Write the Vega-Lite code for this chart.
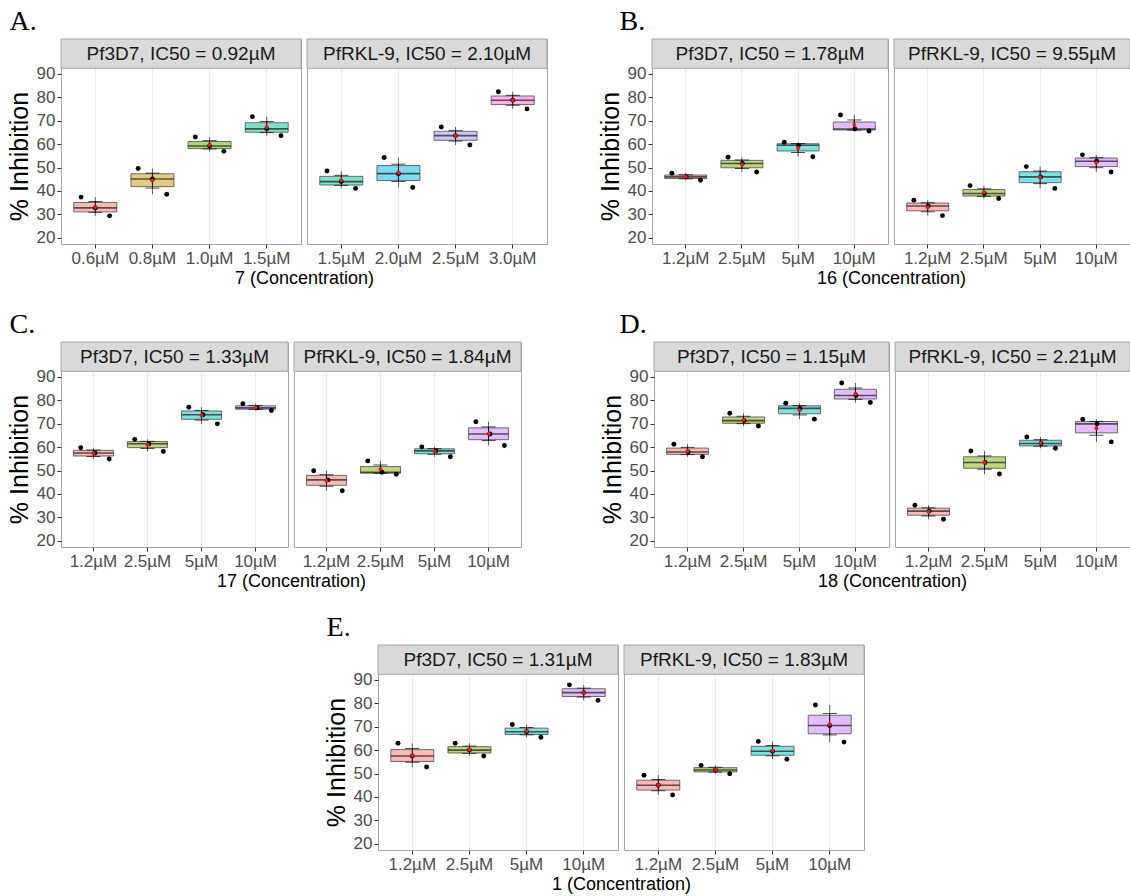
{
"$schema": "https://vega.github.io/schema/vega-lite/v6.json",
"background": "white",
"padding": {"left": 6, "top": 8, "right": 0, "bottom": 0},
"config": {"view": {"stroke": "#a6a6a6", "strokeWidth": 1}, "font": "Liberation Sans", "axis": {"labelFont": "Liberation Sans", "titleFont": "Liberation Sans", "labelOverlap": false, "labelBound": false}, "axisY": {"labelOverlap": false, "tickCount": 20}},
"datasets": {"d": [
{"fig":"A","strain":"Pf3D7","conc":"0.6µM","rep":1,"value":29.4},{"fig":"A","strain":"Pf3D7","conc":"0.6µM","rep":2,"value":32.8},{"fig":"A","strain":"Pf3D7","conc":"0.6µM","rep":3,"value":37.4},
{"fig":"A","strain":"Pf3D7","conc":"0.8µM","rep":1,"value":38.6},{"fig":"A","strain":"Pf3D7","conc":"0.8µM","rep":2,"value":45.1},{"fig":"A","strain":"Pf3D7","conc":"0.8µM","rep":3,"value":49.6},
{"fig":"A","strain":"Pf3D7","conc":"1.0µM","rep":1,"value":56.9},{"fig":"A","strain":"Pf3D7","conc":"1.0µM","rep":2,"value":59.2},{"fig":"A","strain":"Pf3D7","conc":"1.0µM","rep":3,"value":63.0},
{"fig":"A","strain":"Pf3D7","conc":"1.5µM","rep":1,"value":63.6},{"fig":"A","strain":"Pf3D7","conc":"1.5µM","rep":2,"value":66.5},{"fig":"A","strain":"Pf3D7","conc":"1.5µM","rep":3,"value":71.7},
{"fig":"A","strain":"PfRKL-9","conc":"1.5µM","rep":1,"value":41.1},{"fig":"A","strain":"PfRKL-9","conc":"1.5µM","rep":2,"value":44.0},{"fig":"A","strain":"PfRKL-9","conc":"1.5µM","rep":3,"value":48.5},
{"fig":"A","strain":"PfRKL-9","conc":"2.0µM","rep":1,"value":41.5},{"fig":"A","strain":"PfRKL-9","conc":"2.0µM","rep":2,"value":47.4},{"fig":"A","strain":"PfRKL-9","conc":"2.0µM","rep":3,"value":54.3},
{"fig":"A","strain":"PfRKL-9","conc":"2.5µM","rep":1,"value":59.6},{"fig":"A","strain":"PfRKL-9","conc":"2.5µM","rep":2,"value":63.6},{"fig":"A","strain":"PfRKL-9","conc":"2.5µM","rep":3,"value":67.3},
{"fig":"A","strain":"PfRKL-9","conc":"3.0µM","rep":1,"value":75.0},{"fig":"A","strain":"PfRKL-9","conc":"3.0µM","rep":2,"value":78.7},{"fig":"A","strain":"PfRKL-9","conc":"3.0µM","rep":3,"value":82.3},
{"fig":"B","strain":"Pf3D7","conc":"1.2µM","rep":1,"value":44.6},{"fig":"B","strain":"Pf3D7","conc":"1.2µM","rep":2,"value":46.0},{"fig":"B","strain":"Pf3D7","conc":"1.2µM","rep":3,"value":47.6},
{"fig":"B","strain":"Pf3D7","conc":"2.5µM","rep":1,"value":48.1},{"fig":"B","strain":"Pf3D7","conc":"2.5µM","rep":2,"value":51.7},{"fig":"B","strain":"Pf3D7","conc":"2.5µM","rep":3,"value":54.4},
{"fig":"B","strain":"Pf3D7","conc":"5µM","rep":1,"value":54.6},{"fig":"B","strain":"Pf3D7","conc":"5µM","rep":2,"value":59.5},{"fig":"B","strain":"Pf3D7","conc":"5µM","rep":3,"value":60.8},
{"fig":"B","strain":"Pf3D7","conc":"10µM","rep":1,"value":65.6},{"fig":"B","strain":"Pf3D7","conc":"10µM","rep":2,"value":66.4},{"fig":"B","strain":"Pf3D7","conc":"10µM","rep":3,"value":72.4},
{"fig":"B","strain":"PfRKL-9","conc":"1.2µM","rep":1,"value":29.5},{"fig":"B","strain":"PfRKL-9","conc":"1.2µM","rep":2,"value":33.6},{"fig":"B","strain":"PfRKL-9","conc":"1.2µM","rep":3,"value":36.1},
{"fig":"B","strain":"PfRKL-9","conc":"2.5µM","rep":1,"value":36.8},{"fig":"B","strain":"PfRKL-9","conc":"2.5µM","rep":2,"value":38.9},{"fig":"B","strain":"PfRKL-9","conc":"2.5µM","rep":3,"value":42.3},
{"fig":"B","strain":"PfRKL-9","conc":"5µM","rep":1,"value":41.1},{"fig":"B","strain":"PfRKL-9","conc":"5µM","rep":2,"value":46.0},{"fig":"B","strain":"PfRKL-9","conc":"5µM","rep":3,"value":50.4},
{"fig":"B","strain":"PfRKL-9","conc":"10µM","rep":1,"value":48.1},{"fig":"B","strain":"PfRKL-9","conc":"10µM","rep":2,"value":52.7},{"fig":"B","strain":"PfRKL-9","conc":"10µM","rep":3,"value":55.4},
{"fig":"C","strain":"Pf3D7","conc":"1.2µM","rep":1,"value":54.9},{"fig":"C","strain":"Pf3D7","conc":"1.2µM","rep":2,"value":57.5},{"fig":"C","strain":"Pf3D7","conc":"1.2µM","rep":3,"value":59.7},
{"fig":"C","strain":"Pf3D7","conc":"2.5µM","rep":1,"value":58.1},{"fig":"C","strain":"Pf3D7","conc":"2.5µM","rep":2,"value":61.4},{"fig":"C","strain":"Pf3D7","conc":"2.5µM","rep":3,"value":63.3},
{"fig":"C","strain":"Pf3D7","conc":"5µM","rep":1,"value":69.9},{"fig":"C","strain":"Pf3D7","conc":"5µM","rep":2,"value":73.8},{"fig":"C","strain":"Pf3D7","conc":"5µM","rep":3,"value":77.0},
{"fig":"C","strain":"Pf3D7","conc":"10µM","rep":1,"value":75.6},{"fig":"C","strain":"Pf3D7","conc":"10µM","rep":2,"value":76.7},{"fig":"C","strain":"Pf3D7","conc":"10µM","rep":3,"value":78.5},
{"fig":"C","strain":"PfRKL-9","conc":"1.2µM","rep":1,"value":41.4},{"fig":"C","strain":"PfRKL-9","conc":"1.2µM","rep":2,"value":46.0},{"fig":"C","strain":"PfRKL-9","conc":"1.2µM","rep":3,"value":49.9},
{"fig":"C","strain":"PfRKL-9","conc":"2.5µM","rep":1,"value":48.4},{"fig":"C","strain":"PfRKL-9","conc":"2.5µM","rep":2,"value":49.3},{"fig":"C","strain":"PfRKL-9","conc":"2.5µM","rep":3,"value":54.1},
{"fig":"C","strain":"PfRKL-9","conc":"5µM","rep":1,"value":55.9},{"fig":"C","strain":"PfRKL-9","conc":"5µM","rep":2,"value":58.4},{"fig":"C","strain":"PfRKL-9","conc":"5µM","rep":3,"value":60.1},
{"fig":"C","strain":"PfRKL-9","conc":"10µM","rep":1,"value":60.7},{"fig":"C","strain":"PfRKL-9","conc":"10µM","rep":2,"value":65.6},{"fig":"C","strain":"PfRKL-9","conc":"10µM","rep":3,"value":70.8},
{"fig":"D","strain":"Pf3D7","conc":"1.2µM","rep":1,"value":55.9},{"fig":"D","strain":"Pf3D7","conc":"1.2µM","rep":2,"value":57.9},{"fig":"D","strain":"Pf3D7","conc":"1.2µM","rep":3,"value":61.2},
{"fig":"D","strain":"Pf3D7","conc":"2.5µM","rep":1,"value":69.0},{"fig":"D","strain":"Pf3D7","conc":"2.5µM","rep":2,"value":71.3},{"fig":"D","strain":"Pf3D7","conc":"2.5µM","rep":3,"value":74.4},
{"fig":"D","strain":"Pf3D7","conc":"5µM","rep":1,"value":71.9},{"fig":"D","strain":"Pf3D7","conc":"5µM","rep":2,"value":76.5},{"fig":"D","strain":"Pf3D7","conc":"5µM","rep":3,"value":78.7},
{"fig":"D","strain":"Pf3D7","conc":"10µM","rep":1,"value":79.0},{"fig":"D","strain":"Pf3D7","conc":"10µM","rep":2,"value":82.0},{"fig":"D","strain":"Pf3D7","conc":"10µM","rep":3,"value":87.3},
{"fig":"D","strain":"PfRKL-9","conc":"1.2µM","rep":1,"value":29.2},{"fig":"D","strain":"PfRKL-9","conc":"1.2µM","rep":2,"value":32.7},{"fig":"D","strain":"PfRKL-9","conc":"1.2µM","rep":3,"value":35.2},
{"fig":"D","strain":"PfRKL-9","conc":"2.5µM","rep":1,"value":48.5},{"fig":"D","strain":"PfRKL-9","conc":"2.5µM","rep":2,"value":53.4},{"fig":"D","strain":"PfRKL-9","conc":"2.5µM","rep":3,"value":58.3},
{"fig":"D","strain":"PfRKL-9","conc":"5µM","rep":1,"value":59.5},{"fig":"D","strain":"PfRKL-9","conc":"5µM","rep":2,"value":61.5},{"fig":"D","strain":"PfRKL-9","conc":"5µM","rep":3,"value":64.3},
{"fig":"D","strain":"PfRKL-9","conc":"10µM","rep":1,"value":62.2},{"fig":"D","strain":"PfRKL-9","conc":"10µM","rep":2,"value":69.9},{"fig":"D","strain":"PfRKL-9","conc":"10µM","rep":3,"value":71.9},
{"fig":"E","strain":"Pf3D7","conc":"1.2µM","rep":1,"value":52.8},{"fig":"E","strain":"Pf3D7","conc":"1.2µM","rep":2,"value":57.5},{"fig":"E","strain":"Pf3D7","conc":"1.2µM","rep":3,"value":62.9},
{"fig":"E","strain":"Pf3D7","conc":"2.5µM","rep":1,"value":57.5},{"fig":"E","strain":"Pf3D7","conc":"2.5µM","rep":2,"value":60.0},{"fig":"E","strain":"Pf3D7","conc":"2.5µM","rep":3,"value":62.9},
{"fig":"E","strain":"Pf3D7","conc":"5µM","rep":1,"value":65.5},{"fig":"E","strain":"Pf3D7","conc":"5µM","rep":2,"value":67.8},{"fig":"E","strain":"Pf3D7","conc":"5µM","rep":3,"value":70.9},
{"fig":"E","strain":"Pf3D7","conc":"10µM","rep":1,"value":81.2},{"fig":"E","strain":"Pf3D7","conc":"10µM","rep":2,"value":84.5},{"fig":"E","strain":"Pf3D7","conc":"10µM","rep":3,"value":87.8},
{"fig":"E","strain":"PfRKL-9","conc":"1.2µM","rep":1,"value":40.9},{"fig":"E","strain":"PfRKL-9","conc":"1.2µM","rep":2,"value":45.0},{"fig":"E","strain":"PfRKL-9","conc":"1.2µM","rep":3,"value":49.3},
{"fig":"E","strain":"PfRKL-9","conc":"2.5µM","rep":1,"value":49.9},{"fig":"E","strain":"PfRKL-9","conc":"2.5µM","rep":2,"value":51.5},{"fig":"E","strain":"PfRKL-9","conc":"2.5µM","rep":3,"value":53.5},
{"fig":"E","strain":"PfRKL-9","conc":"5µM","rep":1,"value":56.1},{"fig":"E","strain":"PfRKL-9","conc":"5µM","rep":2,"value":59.5},{"fig":"E","strain":"PfRKL-9","conc":"5µM","rep":3,"value":63.7},
{"fig":"E","strain":"PfRKL-9","conc":"10µM","rep":1,"value":63.4},{"fig":"E","strain":"PfRKL-9","conc":"10µM","rep":2,"value":70.5},{"fig":"E","strain":"PfRKL-9","conc":"10µM","rep":3,"value":79.2}
]},
"resolve": {"scale": {"color": "independent"}},
"spacing": 23,
"vconcat": [
{"hconcat": [
 {"title": {"text": "A.", "anchor": "start", "frame": "bounds", "font": "Liberation Serif", "fontSize": 28, "fontWeight": "normal", "color": "black", "offset": 2, "dx": 3},
  "bounds": "flush", "spacing": 6,
  "hconcat": [
   {"width": 240, "height": 205, "layer": [
     {"data": {"values": [{"label": "Pf3D7, IC50 = 0.92µM"}]}, "mark": {"type": "rect", "fill": "#d9d9d9", "stroke": "#a6a6a6", "strokeWidth": 1}, "encoding": {"y": {"datum": 92.3, "type": "quantitative", "scale": {"domain": [17.4, 104.8], "nice": false, "zero": false}}, "y2": {"datum": 104.8}}},
     {"data": {"values": [{"label": "Pf3D7, IC50 = 0.92µM"}]}, "mark": {"type": "text", "fontSize": 19, "color": "#1a1a1a", "font": "Liberation Sans"}, "encoding": {"y": {"datum": 98.55, "type": "quantitative", "scale": {"domain": [17.4, 104.8], "nice": false, "zero": false}}, "text": {"field": "label", "type": "nominal"}}},
     {"data": {"name": "d"}, "transform": [{"filter": "datum.fig === 'A' && datum.strain === 'Pf3D7'"}],
      "encoding": {
       "x": {"field": "conc", "type": "nominal", "scale": {"domain": ["0.6µM","0.8µM","1.0µM","1.5µM"], "paddingInner": 0, "paddingOuter": 0.1}, "axis": {"title": "7 (Concentration)", "titleX": 243, "labelAngle": 0, "labelFontSize": 17, "labelColor": "#4d4d4d", "tickColor": "#333333", "tickSize": 4, "labelPadding": 2, "grid": true, "gridColor": "#ebebeb", "domain": false, "titleFontSize": 18, "titleFontWeight": "normal", "titleColor": "black", "titlePadding": 3}},
       "y": {"field": "value", "type": "quantitative", "scale": {"domain": [17.4, 104.8], "nice": false, "zero": false}, "axis": {"values": [20,25,30,35,40,45,50,55,60,65,70,75,80,85,90], "tickCount": 20, "labelExpr": "datum.value % 10 === 0 ? datum.label : ''", "labelOverlap": false, "tickOpacity": {"condition": {"test": "datum.value % 10 === 0", "value": 1}, "value": 0}, "gridWidth": {"condition": {"test": "datum.value % 10 === 0", "value": 1.2}, "value": 0.6}, "gridColor": "#ebebeb", "domain": false, "tickColor": "#333333", "tickSize": 4, "labelColor": "#4d4d4d", "labelFontSize": 17, "labelPadding": 2, "title": "% Inhibition", "titleFontSize": 25, "titleFontWeight": "normal", "titleColor": "black", "titlePadding": 4, "titleY": 117}}},
      "layer": [
       {"mark": {"type": "boxplot", "extent": "min-max", "size": 43, "box": {"stroke": "#4d4d4d", "strokeWidth": 0.8, "fillOpacity": 0.5}, "median": {"color": "#1a1a1a", "thickness": 1.6}, "rule": {"color": "#333333", "strokeWidth": 0.8}, "ticks": false}, "encoding": {"color": {"field": "conc", "type": "nominal", "scale": {"domain": ["0.6µM","0.8µM","1.0µM","1.5µM","2.0µM","2.5µM","3.0µM"], "range": ["#F8766D","#C49A00","#53B400","#00C094","#00B6EB","#A58AFF","#FB61D7"]}, "legend": null}}},
       {"mark": {"type": "errorbar", "extent": "stderr", "ticks": {"size": 14, "color": "black"}, "rule": {"color": "black", "strokeWidth": 1}}},
       {"mark": {"type": "circle", "color": "black", "size": 24, "opacity": 1}, "encoding": {"xOffset": {"field": "rep", "type": "nominal", "scale": {"domain": [3,2,1], "paddingOuter": 2}}}},
       {"mark": {"type": "circle", "color": "#e41a1c", "size": 16, "opacity": 1}, "encoding": {"y": {"aggregate": "mean", "field": "value", "type": "quantitative", "title": "% Inhibition"}}}
      ]}
   ]},
   {"width": 240, "height": 205, "layer": [
     {"data": {"values": [{"label": "PfRKL-9, IC50 = 2.10µM"}]}, "mark": {"type": "rect", "fill": "#d9d9d9", "stroke": "#a6a6a6", "strokeWidth": 1}, "encoding": {"y": {"datum": 92.3, "type": "quantitative", "scale": {"domain": [17.4, 104.8], "nice": false, "zero": false}}, "y2": {"datum": 104.8}}},
     {"data": {"values": [{"label": "PfRKL-9, IC50 = 2.10µM"}]}, "mark": {"type": "text", "fontSize": 19, "color": "#1a1a1a", "font": "Liberation Sans"}, "encoding": {"y": {"datum": 98.55, "type": "quantitative", "scale": {"domain": [17.4, 104.8], "nice": false, "zero": false}}, "text": {"field": "label", "type": "nominal"}}},
     {"data": {"name": "d"}, "transform": [{"filter": "datum.fig === 'A' && datum.strain === 'PfRKL-9'"}],
      "encoding": {
       "x": {"field": "conc", "type": "nominal", "scale": {"domain": ["1.5µM","2.0µM","2.5µM","3.0µM"], "paddingInner": 0, "paddingOuter": 0.1}, "axis": {"title": null, "labelAngle": 0, "labelFontSize": 17, "labelColor": "#4d4d4d", "tickColor": "#333333", "tickSize": 4, "labelPadding": 2, "grid": true, "gridColor": "#ebebeb", "domain": false}},
       "y": {"field": "value", "type": "quantitative", "scale": {"domain": [17.4, 104.8], "nice": false, "zero": false}, "axis": {"values": [20,25,30,35,40,45,50,55,60,65,70,75,80,85,90], "tickCount": 20, "labels": false, "ticks": false, "domain": false, "title": null, "gridWidth": {"condition": {"test": "datum.value % 10 === 0", "value": 1.2}, "value": 0.6}, "gridColor": "#ebebeb"}}},
      "layer": [
       {"mark": {"type": "boxplot", "extent": "min-max", "size": 43, "box": {"stroke": "#4d4d4d", "strokeWidth": 0.8, "fillOpacity": 0.5}, "median": {"color": "#1a1a1a", "thickness": 1.6}, "rule": {"color": "#333333", "strokeWidth": 0.8}, "ticks": false}, "encoding": {"color": {"field": "conc", "type": "nominal", "scale": {"domain": ["0.6µM","0.8µM","1.0µM","1.5µM","2.0µM","2.5µM","3.0µM"], "range": ["#F8766D","#C49A00","#53B400","#00C094","#00B6EB","#A58AFF","#FB61D7"]}, "legend": null}}},
       {"mark": {"type": "errorbar", "extent": "stderr", "ticks": {"size": 14, "color": "black"}, "rule": {"color": "black", "strokeWidth": 1}}},
       {"mark": {"type": "circle", "color": "black", "size": 24, "opacity": 1}, "encoding": {"xOffset": {"field": "rep", "type": "nominal", "scale": {"domain": [3,2,1], "paddingOuter": 2}}}},
       {"mark": {"type": "circle", "color": "#e41a1c", "size": 16, "opacity": 1}, "encoding": {"y": {"aggregate": "mean", "field": "value", "type": "quantitative", "title": null}}}
      ]}
   ]}
  ]},
 {"title": {"text": "B.", "anchor": "start", "frame": "bounds", "font": "Liberation Serif", "fontSize": 28, "fontWeight": "normal", "color": "black", "offset": 2, "dx": 22},
  "bounds": "flush", "spacing": 6,
  "hconcat": [
   {"width": 236, "height": 205, "layer": [
     {"data": {"values": [{"label": "Pf3D7, IC50 = 1.78µM"}]}, "mark": {"type": "rect", "fill": "#d9d9d9", "stroke": "#a6a6a6", "strokeWidth": 1}, "encoding": {"y": {"datum": 92.3, "type": "quantitative", "scale": {"domain": [17.4, 104.8], "nice": false, "zero": false}}, "y2": {"datum": 104.8}}},
     {"data": {"values": [{"label": "Pf3D7, IC50 = 1.78µM"}]}, "mark": {"type": "text", "fontSize": 19, "color": "#1a1a1a", "font": "Liberation Sans"}, "encoding": {"y": {"datum": 98.55, "type": "quantitative", "scale": {"domain": [17.4, 104.8], "nice": false, "zero": false}}, "text": {"field": "label", "type": "nominal"}}},
     {"data": {"name": "d"}, "transform": [{"filter": "datum.fig === 'B' && datum.strain === 'Pf3D7'"}],
      "encoding": {
       "x": {"field": "conc", "type": "nominal", "scale": {"domain": ["1.2µM","2.5µM","5µM","10µM"], "paddingInner": 0, "paddingOuter": 0.1}, "axis": {"title": "16 (Concentration)", "titleX": 239, "labelAngle": 0, "labelFontSize": 17, "labelColor": "#4d4d4d", "tickColor": "#333333", "tickSize": 4, "labelPadding": 2, "grid": true, "gridColor": "#ebebeb", "domain": false, "titleFontSize": 18, "titleFontWeight": "normal", "titleColor": "black", "titlePadding": 3}},
       "y": {"field": "value", "type": "quantitative", "scale": {"domain": [17.4, 104.8], "nice": false, "zero": false}, "axis": {"values": [20,25,30,35,40,45,50,55,60,65,70,75,80,85,90], "tickCount": 20, "labelExpr": "datum.value % 10 === 0 ? datum.label : ''", "labelOverlap": false, "tickOpacity": {"condition": {"test": "datum.value % 10 === 0", "value": 1}, "value": 0}, "gridWidth": {"condition": {"test": "datum.value % 10 === 0", "value": 1.2}, "value": 0.6}, "gridColor": "#ebebeb", "domain": false, "tickColor": "#333333", "tickSize": 4, "labelColor": "#4d4d4d", "labelFontSize": 17, "labelPadding": 2, "title": "% Inhibition", "titleFontSize": 25, "titleFontWeight": "normal", "titleColor": "black", "titlePadding": 4, "titleY": 117}}},
      "layer": [
       {"mark": {"type": "boxplot", "extent": "min-max", "size": 42, "box": {"stroke": "#4d4d4d", "strokeWidth": 0.8, "fillOpacity": 0.5}, "median": {"color": "#1a1a1a", "thickness": 1.6}, "rule": {"color": "#333333", "strokeWidth": 0.8}, "ticks": false}, "encoding": {"color": {"field": "conc", "type": "nominal", "scale": {"domain": ["1.2µM","2.5µM","5µM","10µM"], "range": ["#F8766D","#7CAE00","#00BFC4","#C77CFF"]}, "legend": null}}},
       {"mark": {"type": "errorbar", "extent": "stderr", "ticks": {"size": 14, "color": "black"}, "rule": {"color": "black", "strokeWidth": 1}}},
       {"mark": {"type": "circle", "color": "black", "size": 24, "opacity": 1}, "encoding": {"xOffset": {"field": "rep", "type": "nominal", "scale": {"domain": [3,2,1], "paddingOuter": 2}}}},
       {"mark": {"type": "circle", "color": "#e41a1c", "size": 16, "opacity": 1}, "encoding": {"y": {"aggregate": "mean", "field": "value", "type": "quantitative", "title": "% Inhibition"}}}
      ]}
   ]},
   {"width": 236, "height": 205, "layer": [
     {"data": {"values": [{"label": "PfRKL-9, IC50 = 9.55µM"}]}, "mark": {"type": "rect", "fill": "#d9d9d9", "stroke": "#a6a6a6", "strokeWidth": 1}, "encoding": {"y": {"datum": 92.3, "type": "quantitative", "scale": {"domain": [17.4, 104.8], "nice": false, "zero": false}}, "y2": {"datum": 104.8}}},
     {"data": {"values": [{"label": "PfRKL-9, IC50 = 9.55µM"}]}, "mark": {"type": "text", "fontSize": 19, "color": "#1a1a1a", "font": "Liberation Sans"}, "encoding": {"y": {"datum": 98.55, "type": "quantitative", "scale": {"domain": [17.4, 104.8], "nice": false, "zero": false}}, "text": {"field": "label", "type": "nominal"}}},
     {"data": {"name": "d"}, "transform": [{"filter": "datum.fig === 'B' && datum.strain === 'PfRKL-9'"}],
      "encoding": {
       "x": {"field": "conc", "type": "nominal", "scale": {"domain": ["1.2µM","2.5µM","5µM","10µM"], "paddingInner": 0, "paddingOuter": 0.1}, "axis": {"title": null, "labelAngle": 0, "labelFontSize": 17, "labelColor": "#4d4d4d", "tickColor": "#333333", "tickSize": 4, "labelPadding": 2, "grid": true, "gridColor": "#ebebeb", "domain": false}},
       "y": {"field": "value", "type": "quantitative", "scale": {"domain": [17.4, 104.8], "nice": false, "zero": false}, "axis": {"values": [20,25,30,35,40,45,50,55,60,65,70,75,80,85,90], "tickCount": 20, "labels": false, "ticks": false, "domain": false, "title": null, "gridWidth": {"condition": {"test": "datum.value % 10 === 0", "value": 1.2}, "value": 0.6}, "gridColor": "#ebebeb"}}},
      "layer": [
       {"mark": {"type": "boxplot", "extent": "min-max", "size": 42, "box": {"stroke": "#4d4d4d", "strokeWidth": 0.8, "fillOpacity": 0.5}, "median": {"color": "#1a1a1a", "thickness": 1.6}, "rule": {"color": "#333333", "strokeWidth": 0.8}, "ticks": false}, "encoding": {"color": {"field": "conc", "type": "nominal", "scale": {"domain": ["1.2µM","2.5µM","5µM","10µM"], "range": ["#F8766D","#7CAE00","#00BFC4","#C77CFF"]}, "legend": null}}},
       {"mark": {"type": "errorbar", "extent": "stderr", "ticks": {"size": 14, "color": "black"}, "rule": {"color": "black", "strokeWidth": 1}}},
       {"mark": {"type": "circle", "color": "black", "size": 24, "opacity": 1}, "encoding": {"xOffset": {"field": "rep", "type": "nominal", "scale": {"domain": [3,2,1], "paddingOuter": 2}}}},
       {"mark": {"type": "circle", "color": "#e41a1c", "size": 16, "opacity": 1}, "encoding": {"y": {"aggregate": "mean", "field": "value", "type": "quantitative", "title": null}}}
      ]}
   ]}
  ]}
 ], "spacing": 49, "resolve": {"scale": {"color": "independent"}}},
{"hconcat": [
 {"title": {"text": "C.", "anchor": "start", "frame": "bounds", "font": "Liberation Serif", "fontSize": 28, "fontWeight": "normal", "color": "black", "offset": 2, "dx": 3},
  "bounds": "flush", "spacing": 6,
  "hconcat": [
   {"width": 227, "height": 205, "layer": [
     {"data": {"values": [{"label": "Pf3D7, IC50 = 1.33µM"}]}, "mark": {"type": "rect", "fill": "#d9d9d9", "stroke": "#a6a6a6", "strokeWidth": 1}, "encoding": {"y": {"datum": 92.3, "type": "quantitative", "scale": {"domain": [17.4, 104.8], "nice": false, "zero": false}}, "y2": {"datum": 104.8}}},
     {"data": {"values": [{"label": "Pf3D7, IC50 = 1.33µM"}]}, "mark": {"type": "text", "fontSize": 19, "color": "#1a1a1a", "font": "Liberation Sans"}, "encoding": {"y": {"datum": 98.55, "type": "quantitative", "scale": {"domain": [17.4, 104.8], "nice": false, "zero": false}}, "text": {"field": "label", "type": "nominal"}}},
     {"data": {"name": "d"}, "transform": [{"filter": "datum.fig === 'C' && datum.strain === 'Pf3D7'"}],
      "encoding": {
       "x": {"field": "conc", "type": "nominal", "scale": {"domain": ["1.2µM","2.5µM","5µM","10µM"], "paddingInner": 0, "paddingOuter": 0.1}, "axis": {"title": "17 (Concentration)", "titleX": 230, "labelAngle": 0, "labelFontSize": 17, "labelColor": "#4d4d4d", "tickColor": "#333333", "tickSize": 4, "labelPadding": 2, "grid": true, "gridColor": "#ebebeb", "domain": false, "titleFontSize": 18, "titleFontWeight": "normal", "titleColor": "black", "titlePadding": 3}},
       "y": {"field": "value", "type": "quantitative", "scale": {"domain": [17.4, 104.8], "nice": false, "zero": false}, "axis": {"values": [20,25,30,35,40,45,50,55,60,65,70,75,80,85,90], "tickCount": 20, "labelExpr": "datum.value % 10 === 0 ? datum.label : ''", "labelOverlap": false, "tickOpacity": {"condition": {"test": "datum.value % 10 === 0", "value": 1}, "value": 0}, "gridWidth": {"condition": {"test": "datum.value % 10 === 0", "value": 1.2}, "value": 0.6}, "gridColor": "#ebebeb", "domain": false, "tickColor": "#333333", "tickSize": 4, "labelColor": "#4d4d4d", "labelFontSize": 17, "labelPadding": 2, "title": "% Inhibition", "titleFontSize": 25, "titleFontWeight": "normal", "titleColor": "black", "titlePadding": 4, "titleY": 117}}},
      "layer": [
       {"mark": {"type": "boxplot", "extent": "min-max", "size": 40, "box": {"stroke": "#4d4d4d", "strokeWidth": 0.8, "fillOpacity": 0.5}, "median": {"color": "#1a1a1a", "thickness": 1.6}, "rule": {"color": "#333333", "strokeWidth": 0.8}, "ticks": false}, "encoding": {"color": {"field": "conc", "type": "nominal", "scale": {"domain": ["1.2µM","2.5µM","5µM","10µM"], "range": ["#F8766D","#7CAE00","#00BFC4","#C77CFF"]}, "legend": null}}},
       {"mark": {"type": "errorbar", "extent": "stderr", "ticks": {"size": 14, "color": "black"}, "rule": {"color": "black", "strokeWidth": 1}}},
       {"mark": {"type": "circle", "color": "black", "size": 24, "opacity": 1}, "encoding": {"xOffset": {"field": "rep", "type": "nominal", "scale": {"domain": [3,2,1], "paddingOuter": 2}}}},
       {"mark": {"type": "circle", "color": "#e41a1c", "size": 16, "opacity": 1}, "encoding": {"y": {"aggregate": "mean", "field": "value", "type": "quantitative", "title": "% Inhibition"}}}
      ]}
   ]},
   {"width": 227, "height": 205, "layer": [
     {"data": {"values": [{"label": "PfRKL-9, IC50 = 1.84µM"}]}, "mark": {"type": "rect", "fill": "#d9d9d9", "stroke": "#a6a6a6", "strokeWidth": 1}, "encoding": {"y": {"datum": 92.3, "type": "quantitative", "scale": {"domain": [17.4, 104.8], "nice": false, "zero": false}}, "y2": {"datum": 104.8}}},
     {"data": {"values": [{"label": "PfRKL-9, IC50 = 1.84µM"}]}, "mark": {"type": "text", "fontSize": 19, "color": "#1a1a1a", "font": "Liberation Sans"}, "encoding": {"y": {"datum": 98.55, "type": "quantitative", "scale": {"domain": [17.4, 104.8], "nice": false, "zero": false}}, "text": {"field": "label", "type": "nominal"}}},
     {"data": {"name": "d"}, "transform": [{"filter": "datum.fig === 'C' && datum.strain === 'PfRKL-9'"}],
      "encoding": {
       "x": {"field": "conc", "type": "nominal", "scale": {"domain": ["1.2µM","2.5µM","5µM","10µM"], "paddingInner": 0, "paddingOuter": 0.1}, "axis": {"title": null, "labelAngle": 0, "labelFontSize": 17, "labelColor": "#4d4d4d", "tickColor": "#333333", "tickSize": 4, "labelPadding": 2, "grid": true, "gridColor": "#ebebeb", "domain": false}},
       "y": {"field": "value", "type": "quantitative", "scale": {"domain": [17.4, 104.8], "nice": false, "zero": false}, "axis": {"values": [20,25,30,35,40,45,50,55,60,65,70,75,80,85,90], "tickCount": 20, "labels": false, "ticks": false, "domain": false, "title": null, "gridWidth": {"condition": {"test": "datum.value % 10 === 0", "value": 1.2}, "value": 0.6}, "gridColor": "#ebebeb"}}},
      "layer": [
       {"mark": {"type": "boxplot", "extent": "min-max", "size": 40, "box": {"stroke": "#4d4d4d", "strokeWidth": 0.8, "fillOpacity": 0.5}, "median": {"color": "#1a1a1a", "thickness": 1.6}, "rule": {"color": "#333333", "strokeWidth": 0.8}, "ticks": false}, "encoding": {"color": {"field": "conc", "type": "nominal", "scale": {"domain": ["1.2µM","2.5µM","5µM","10µM"], "range": ["#F8766D","#7CAE00","#00BFC4","#C77CFF"]}, "legend": null}}},
       {"mark": {"type": "errorbar", "extent": "stderr", "ticks": {"size": 14, "color": "black"}, "rule": {"color": "black", "strokeWidth": 1}}},
       {"mark": {"type": "circle", "color": "black", "size": 24, "opacity": 1}, "encoding": {"xOffset": {"field": "rep", "type": "nominal", "scale": {"domain": [3,2,1], "paddingOuter": 2}}}},
       {"mark": {"type": "circle", "color": "#e41a1c", "size": 16, "opacity": 1}, "encoding": {"y": {"aggregate": "mean", "field": "value", "type": "quantitative", "title": null}}}
      ]}
   ]}
  ]},
 {"title": {"text": "D.", "anchor": "start", "frame": "bounds", "font": "Liberation Serif", "fontSize": 28, "fontWeight": "normal", "color": "black", "offset": 2, "dx": 20},
  "bounds": "flush", "spacing": 6,
  "hconcat": [
   {"width": 235, "height": 205, "layer": [
     {"data": {"values": [{"label": "Pf3D7, IC50 = 1.15µM"}]}, "mark": {"type": "rect", "fill": "#d9d9d9", "stroke": "#a6a6a6", "strokeWidth": 1}, "encoding": {"y": {"datum": 92.3, "type": "quantitative", "scale": {"domain": [17.4, 104.8], "nice": false, "zero": false}}, "y2": {"datum": 104.8}}},
     {"data": {"values": [{"label": "Pf3D7, IC50 = 1.15µM"}]}, "mark": {"type": "text", "fontSize": 19, "color": "#1a1a1a", "font": "Liberation Sans"}, "encoding": {"y": {"datum": 98.55, "type": "quantitative", "scale": {"domain": [17.4, 104.8], "nice": false, "zero": false}}, "text": {"field": "label", "type": "nominal"}}},
     {"data": {"name": "d"}, "transform": [{"filter": "datum.fig === 'D' && datum.strain === 'Pf3D7'"}],
      "encoding": {
       "x": {"field": "conc", "type": "nominal", "scale": {"domain": ["1.2µM","2.5µM","5µM","10µM"], "paddingInner": 0, "paddingOuter": 0.1}, "axis": {"title": "18 (Concentration)", "titleX": 238, "labelAngle": 0, "labelFontSize": 17, "labelColor": "#4d4d4d", "tickColor": "#333333", "tickSize": 4, "labelPadding": 2, "grid": true, "gridColor": "#ebebeb", "domain": false, "titleFontSize": 18, "titleFontWeight": "normal", "titleColor": "black", "titlePadding": 3}},
       "y": {"field": "value", "type": "quantitative", "scale": {"domain": [17.4, 104.8], "nice": false, "zero": false}, "axis": {"values": [20,25,30,35,40,45,50,55,60,65,70,75,80,85,90], "tickCount": 20, "labelExpr": "datum.value % 10 === 0 ? datum.label : ''", "labelOverlap": false, "tickOpacity": {"condition": {"test": "datum.value % 10 === 0", "value": 1}, "value": 0}, "gridWidth": {"condition": {"test": "datum.value % 10 === 0", "value": 1.2}, "value": 0.6}, "gridColor": "#ebebeb", "domain": false, "tickColor": "#333333", "tickSize": 4, "labelColor": "#4d4d4d", "labelFontSize": 17, "labelPadding": 2, "title": "% Inhibition", "titleFontSize": 25, "titleFontWeight": "normal", "titleColor": "black", "titlePadding": 4, "titleY": 117}}},
      "layer": [
       {"mark": {"type": "boxplot", "extent": "min-max", "size": 42, "box": {"stroke": "#4d4d4d", "strokeWidth": 0.8, "fillOpacity": 0.5}, "median": {"color": "#1a1a1a", "thickness": 1.6}, "rule": {"color": "#333333", "strokeWidth": 0.8}, "ticks": false}, "encoding": {"color": {"field": "conc", "type": "nominal", "scale": {"domain": ["1.2µM","2.5µM","5µM","10µM"], "range": ["#F8766D","#7CAE00","#00BFC4","#C77CFF"]}, "legend": null}}},
       {"mark": {"type": "errorbar", "extent": "stderr", "ticks": {"size": 14, "color": "black"}, "rule": {"color": "black", "strokeWidth": 1}}},
       {"mark": {"type": "circle", "color": "black", "size": 24, "opacity": 1}, "encoding": {"xOffset": {"field": "rep", "type": "nominal", "scale": {"domain": [3,2,1], "paddingOuter": 2}}}},
       {"mark": {"type": "circle", "color": "#e41a1c", "size": 16, "opacity": 1}, "encoding": {"y": {"aggregate": "mean", "field": "value", "type": "quantitative", "title": "% Inhibition"}}}
      ]}
   ]},
   {"width": 235, "height": 205, "layer": [
     {"data": {"values": [{"label": "PfRKL-9, IC50 = 2.21µM"}]}, "mark": {"type": "rect", "fill": "#d9d9d9", "stroke": "#a6a6a6", "strokeWidth": 1}, "encoding": {"y": {"datum": 92.3, "type": "quantitative", "scale": {"domain": [17.4, 104.8], "nice": false, "zero": false}}, "y2": {"datum": 104.8}}},
     {"data": {"values": [{"label": "PfRKL-9, IC50 = 2.21µM"}]}, "mark": {"type": "text", "fontSize": 19, "color": "#1a1a1a", "font": "Liberation Sans"}, "encoding": {"y": {"datum": 98.55, "type": "quantitative", "scale": {"domain": [17.4, 104.8], "nice": false, "zero": false}}, "text": {"field": "label", "type": "nominal"}}},
     {"data": {"name": "d"}, "transform": [{"filter": "datum.fig === 'D' && datum.strain === 'PfRKL-9'"}],
      "encoding": {
       "x": {"field": "conc", "type": "nominal", "scale": {"domain": ["1.2µM","2.5µM","5µM","10µM"], "paddingInner": 0, "paddingOuter": 0.1}, "axis": {"title": null, "labelAngle": 0, "labelFontSize": 17, "labelColor": "#4d4d4d", "tickColor": "#333333", "tickSize": 4, "labelPadding": 2, "grid": true, "gridColor": "#ebebeb", "domain": false}},
       "y": {"field": "value", "type": "quantitative", "scale": {"domain": [17.4, 104.8], "nice": false, "zero": false}, "axis": {"values": [20,25,30,35,40,45,50,55,60,65,70,75,80,85,90], "tickCount": 20, "labels": false, "ticks": false, "domain": false, "title": null, "gridWidth": {"condition": {"test": "datum.value % 10 === 0", "value": 1.2}, "value": 0.6}, "gridColor": "#ebebeb"}}},
      "layer": [
       {"mark": {"type": "boxplot", "extent": "min-max", "size": 42, "box": {"stroke": "#4d4d4d", "strokeWidth": 0.8, "fillOpacity": 0.5}, "median": {"color": "#1a1a1a", "thickness": 1.6}, "rule": {"color": "#333333", "strokeWidth": 0.8}, "ticks": false}, "encoding": {"color": {"field": "conc", "type": "nominal", "scale": {"domain": ["1.2µM","2.5µM","5µM","10µM"], "range": ["#F8766D","#7CAE00","#00BFC4","#C77CFF"]}, "legend": null}}},
       {"mark": {"type": "errorbar", "extent": "stderr", "ticks": {"size": 14, "color": "black"}, "rule": {"color": "black", "strokeWidth": 1}}},
       {"mark": {"type": "circle", "color": "black", "size": 24, "opacity": 1}, "encoding": {"xOffset": {"field": "rep", "type": "nominal", "scale": {"domain": [3,2,1], "paddingOuter": 2}}}},
       {"mark": {"type": "circle", "color": "#e41a1c", "size": 16, "opacity": 1}, "encoding": {"y": {"aggregate": "mean", "field": "value", "type": "quantitative", "title": null}}}
      ]}
   ]}
  ]}
 ], "spacing": 77, "resolve": {"scale": {"color": "independent"}}},
{"hconcat": [
 {"width": 1, "height": 1, "data": {"values": [{}]}, "mark": {"type": "point", "opacity": 0}, "encoding": {}, "view": {"stroke": null}},
 {"title": {"text": "E.", "anchor": "start", "frame": "bounds", "font": "Liberation Serif", "fontSize": 28, "fontWeight": "normal", "color": "black", "offset": 2, "dx": 3},
  "bounds": "flush", "spacing": 6,
  "hconcat": [
   {"width": 240, "height": 205, "layer": [
     {"data": {"values": [{"label": "Pf3D7, IC50 = 1.31µM"}]}, "mark": {"type": "rect", "fill": "#d9d9d9", "stroke": "#a6a6a6", "strokeWidth": 1}, "encoding": {"y": {"datum": 92.3, "type": "quantitative", "scale": {"domain": [17.4, 104.8], "nice": false, "zero": false}}, "y2": {"datum": 104.8}}},
     {"data": {"values": [{"label": "Pf3D7, IC50 = 1.31µM"}]}, "mark": {"type": "text", "fontSize": 19, "color": "#1a1a1a", "font": "Liberation Sans"}, "encoding": {"y": {"datum": 98.55, "type": "quantitative", "scale": {"domain": [17.4, 104.8], "nice": false, "zero": false}}, "text": {"field": "label", "type": "nominal"}}},
     {"data": {"name": "d"}, "transform": [{"filter": "datum.fig === 'E' && datum.strain === 'Pf3D7'"}],
      "encoding": {
       "x": {"field": "conc", "type": "nominal", "scale": {"domain": ["1.2µM","2.5µM","5µM","10µM"], "paddingInner": 0, "paddingOuter": 0.1}, "axis": {"title": "1 (Concentration)", "titleX": 243, "labelAngle": 0, "labelFontSize": 17, "labelColor": "#4d4d4d", "tickColor": "#333333", "tickSize": 4, "labelPadding": 2, "grid": true, "gridColor": "#ebebeb", "domain": false, "titleFontSize": 18, "titleFontWeight": "normal", "titleColor": "black", "titlePadding": 3}},
       "y": {"field": "value", "type": "quantitative", "scale": {"domain": [17.4, 104.8], "nice": false, "zero": false}, "axis": {"values": [20,25,30,35,40,45,50,55,60,65,70,75,80,85,90], "tickCount": 20, "labelExpr": "datum.value % 10 === 0 ? datum.label : ''", "labelOverlap": false, "tickOpacity": {"condition": {"test": "datum.value % 10 === 0", "value": 1}, "value": 0}, "gridWidth": {"condition": {"test": "datum.value % 10 === 0", "value": 1.2}, "value": 0.6}, "gridColor": "#ebebeb", "domain": false, "tickColor": "#333333", "tickSize": 4, "labelColor": "#4d4d4d", "labelFontSize": 17, "labelPadding": 2, "title": "% Inhibition", "titleFontSize": 25, "titleFontWeight": "normal", "titleColor": "black", "titlePadding": 4, "titleY": 117}}},
      "layer": [
       {"mark": {"type": "boxplot", "extent": "min-max", "size": 43, "box": {"stroke": "#4d4d4d", "strokeWidth": 0.8, "fillOpacity": 0.5}, "median": {"color": "#1a1a1a", "thickness": 1.6}, "rule": {"color": "#333333", "strokeWidth": 0.8}, "ticks": false}, "encoding": {"color": {"field": "conc", "type": "nominal", "scale": {"domain": ["1.2µM","2.5µM","5µM","10µM"], "range": ["#F8766D","#7CAE00","#00BFC4","#C77CFF"]}, "legend": null}}},
       {"mark": {"type": "errorbar", "extent": "stderr", "ticks": {"size": 14, "color": "black"}, "rule": {"color": "black", "strokeWidth": 1}}},
       {"mark": {"type": "circle", "color": "black", "size": 24, "opacity": 1}, "encoding": {"xOffset": {"field": "rep", "type": "nominal", "scale": {"domain": [3,2,1], "paddingOuter": 2}}}},
       {"mark": {"type": "circle", "color": "#e41a1c", "size": 16, "opacity": 1}, "encoding": {"y": {"aggregate": "mean", "field": "value", "type": "quantitative", "title": "% Inhibition"}}}
      ]}
   ]},
   {"width": 240, "height": 205, "layer": [
     {"data": {"values": [{"label": "PfRKL-9, IC50 = 1.83µM"}]}, "mark": {"type": "rect", "fill": "#d9d9d9", "stroke": "#a6a6a6", "strokeWidth": 1}, "encoding": {"y": {"datum": 92.3, "type": "quantitative", "scale": {"domain": [17.4, 104.8], "nice": false, "zero": false}}, "y2": {"datum": 104.8}}},
     {"data": {"values": [{"label": "PfRKL-9, IC50 = 1.83µM"}]}, "mark": {"type": "text", "fontSize": 19, "color": "#1a1a1a", "font": "Liberation Sans"}, "encoding": {"y": {"datum": 98.55, "type": "quantitative", "scale": {"domain": [17.4, 104.8], "nice": false, "zero": false}}, "text": {"field": "label", "type": "nominal"}}},
     {"data": {"name": "d"}, "transform": [{"filter": "datum.fig === 'E' && datum.strain === 'PfRKL-9'"}],
      "encoding": {
       "x": {"field": "conc", "type": "nominal", "scale": {"domain": ["1.2µM","2.5µM","5µM","10µM"], "paddingInner": 0, "paddingOuter": 0.1}, "axis": {"title": null, "labelAngle": 0, "labelFontSize": 17, "labelColor": "#4d4d4d", "tickColor": "#333333", "tickSize": 4, "labelPadding": 2, "grid": true, "gridColor": "#ebebeb", "domain": false}},
       "y": {"field": "value", "type": "quantitative", "scale": {"domain": [17.4, 104.8], "nice": false, "zero": false}, "axis": {"values": [20,25,30,35,40,45,50,55,60,65,70,75,80,85,90], "tickCount": 20, "labels": false, "ticks": false, "domain": false, "title": null, "gridWidth": {"condition": {"test": "datum.value % 10 === 0", "value": 1.2}, "value": 0.6}, "gridColor": "#ebebeb"}}},
      "layer": [
       {"mark": {"type": "boxplot", "extent": "min-max", "size": 43, "box": {"stroke": "#4d4d4d", "strokeWidth": 0.8, "fillOpacity": 0.5}, "median": {"color": "#1a1a1a", "thickness": 1.6}, "rule": {"color": "#333333", "strokeWidth": 0.8}, "ticks": false}, "encoding": {"color": {"field": "conc", "type": "nominal", "scale": {"domain": ["1.2µM","2.5µM","5µM","10µM"], "range": ["#F8766D","#7CAE00","#00BFC4","#C77CFF"]}, "legend": null}}},
       {"mark": {"type": "errorbar", "extent": "stderr", "ticks": {"size": 14, "color": "black"}, "rule": {"color": "black", "strokeWidth": 1}}},
       {"mark": {"type": "circle", "color": "black", "size": 24, "opacity": 1}, "encoding": {"xOffset": {"field": "rep", "type": "nominal", "scale": {"domain": [3,2,1], "paddingOuter": 2}}}},
       {"mark": {"type": "circle", "color": "#e41a1c", "size": 16, "opacity": 1}, "encoding": {"y": {"aggregate": "mean", "field": "value", "type": "quantitative", "title": null}}}
      ]}
   ]}
  ]}
 ], "spacing": 258, "resolve": {"scale": {"color": "independent"}}}
]
}
